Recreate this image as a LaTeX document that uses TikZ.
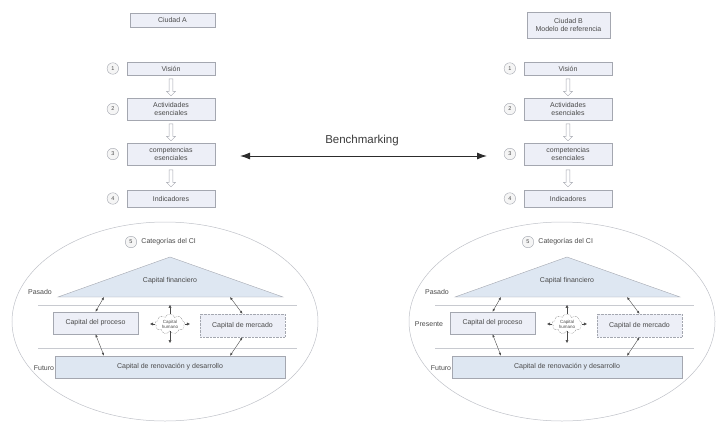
\documentclass[tikz,border=0pt]{standalone}
\usepackage{fontspec}
\setmainfont{Liberation Sans}
\usetikzlibrary{positioning,calc,shapes.symbols,shapes.arrows,arrows.meta}

\definecolor{boxfill}{HTML}{EDEFF7}
\definecolor{capfill}{HTML}{DEE7F2}
\definecolor{edge}{HTML}{A4A7B0}
\definecolor{txt}{HTML}{4A4A4A}
\newcommand\boxfont{\fontsize{7}{8}\selectfont}

\tikzset{
    stepbox/.style={draw=edge, fill=boxfill, minimum width=88pt, minimum height=13pt, align=center, font=\boxfont, inner sep=1pt},
    num/.style={circle, draw=edge, fill=gray!8, minimum size=11.5pt, inner sep=0pt, font=\fontsize{5.5}{6}\selectfont},
    hollow/.style={single arrow, draw=edge, fill=white, minimum height=17pt, minimum width=9pt, inner sep=1.6pt, single arrow head extend=2.5pt, rotate=-90},
    capbox/.style={draw=edge, fill=boxfill, minimum width=85pt, minimum height=22pt, font=\boxfont},
    era/.style={font=\boxfont},
    ring/.style={draw=edge!70, line width=0.5pt},
    guide/.style={draw=edge!60, line width=0.5pt},
    humcloud/.style={cloud, cloud puffs=9, aspect=1.6, draw=txt, densely dotted, minimum width=30pt, minimum height=20pt, inner sep=0pt, align=center, font=\fontsize{4.5}{5}\selectfont},
    link/.style={{Latex[length=3pt,width=2.4pt]}-{Latex[length=3pt,width=2.4pt]}, draw=txt, line width=0.4pt},
    humarrow/.style={-{Latex[length=3pt,width=3pt]}, draw=txt, line width=0.4pt}
}

\begin{document}
\begin{tikzpicture}[x=1pt,y=-1pt, every node/.style={text=txt}]
    \useasboundingbox (0,0) rectangle (725,423);

    % the two cities
    \node[stepbox, minimum width=85pt, minimum height=14pt] (ciuA) at (172.5,20) {Ciudad A};
    \node[stepbox, minimum width=83pt, minimum height=26pt] (ciuB) at (568.5,25) {Ciudad B\\Modelo de referencia};

    % benchmarking between the columns
    \node[font=\fontsize{11.5}{12}\selectfont, text=txt!80!black] (bench) at (362,141) {Benchmarking};
    \coordinate (benchL) at (240,156);
    \coordinate (benchR) at (487,156);
    \draw[{Latex[length=10pt,width=7pt]}-{Latex[length=10pt,width=7pt]}, line width=1pt, draw=txt!60!black] (benchL) -- (benchR);

    \foreach \s/\dx in {A/0,B/397}{
        \begin{scope}[xshift=\dx pt]
            % steps 1 to 4
            \node[stepbox] (vis\s) at (171,68.5) {Visión};
            \node[stepbox, minimum height=22pt] (act\s) at (171,109) {Actividades\\esenciales};
            \node[stepbox, minimum height=22pt] (com\s) at (171,154) {competencias\\esenciales};
            \node[stepbox, minimum height=17pt] (ind\s) at (171,198.5) {Indicadores};
            \foreach \n/\b in {1/vis,2/act,3/com,4/ind}
                \node[num, left=8pt of \b\s] (n\n\s) {\n};
            \node[hollow] at ($(vis\s.south)!0.5!(act\s.north)$) {};
            \node[hollow] at ($(act\s.south)!0.5!(com\s.north)$) {};
            \node[hollow] at ($(com\s.south)!0.5!(ind\s.north)$) {};

            % categories of intellectual capital
            \draw[ring] (165,321.5) ellipse [x radius=153, y radius=99.5];
            \node[num] (n5\s) at (131,242) {5};
            \node[era, right=1pt of n5\s] (cat\s) {Categorías del CI};
            \draw[guide] (38,305) -- (297,305);
            \draw[guide] (38,348) -- (297,348);
            \draw[draw=edge, fill=capfill] (58,297) -- (170,257) -- (283,297) -- cycle;
            \node[era] (fin\s) at (170,281) {Capital financiero};
            \node[capbox] (pro\s) at (95.5,323) {Capital del proceso};
            \node[capbox, densely dotted, minimum height=23pt] (mer\s) at (242.5,325.5) {Capital de mercado};
            \node[capbox, fill=capfill, minimum width=230pt] (ren\s) at (170,367) {Capital de renovación y desarrollo};
            \node[era] (pas\s) at (40,292) {Pasado};
            \node[era] (fut\s) at (44,368) {Futuro};

            % links between the capitals
            \coordinate (tl\s) at (104,297);
            \coordinate (tr\s) at (230,297);
            \draw[link] (tl\s) -- (pro\s.north);
            \draw[link] (pro\s.south) -- (tl\s |- ren\s.north);
            \draw[link] (tr\s) -- (mer\s.north);
            \draw[link] (mer\s.south) -- (tr\s |- ren\s.north);

            % human capital in the middle
            \node[humcloud] (hum\s) at (170,324) {Capital\\humano};
            \draw[humarrow] (hum\s.north) -- ++(0,-9);
            \draw[humarrow] (hum\s.south) -- ++(0,12);
            \draw[humarrow] (hum\s.west) -- ++(-5,0);
            \draw[humarrow] (hum\s.east) -- ++(5,0);
        \end{scope}
    }

    % only the reference city marks the present
    \node[era] (pre) at (429,324) {Presente};
\end{tikzpicture}
\end{document}
